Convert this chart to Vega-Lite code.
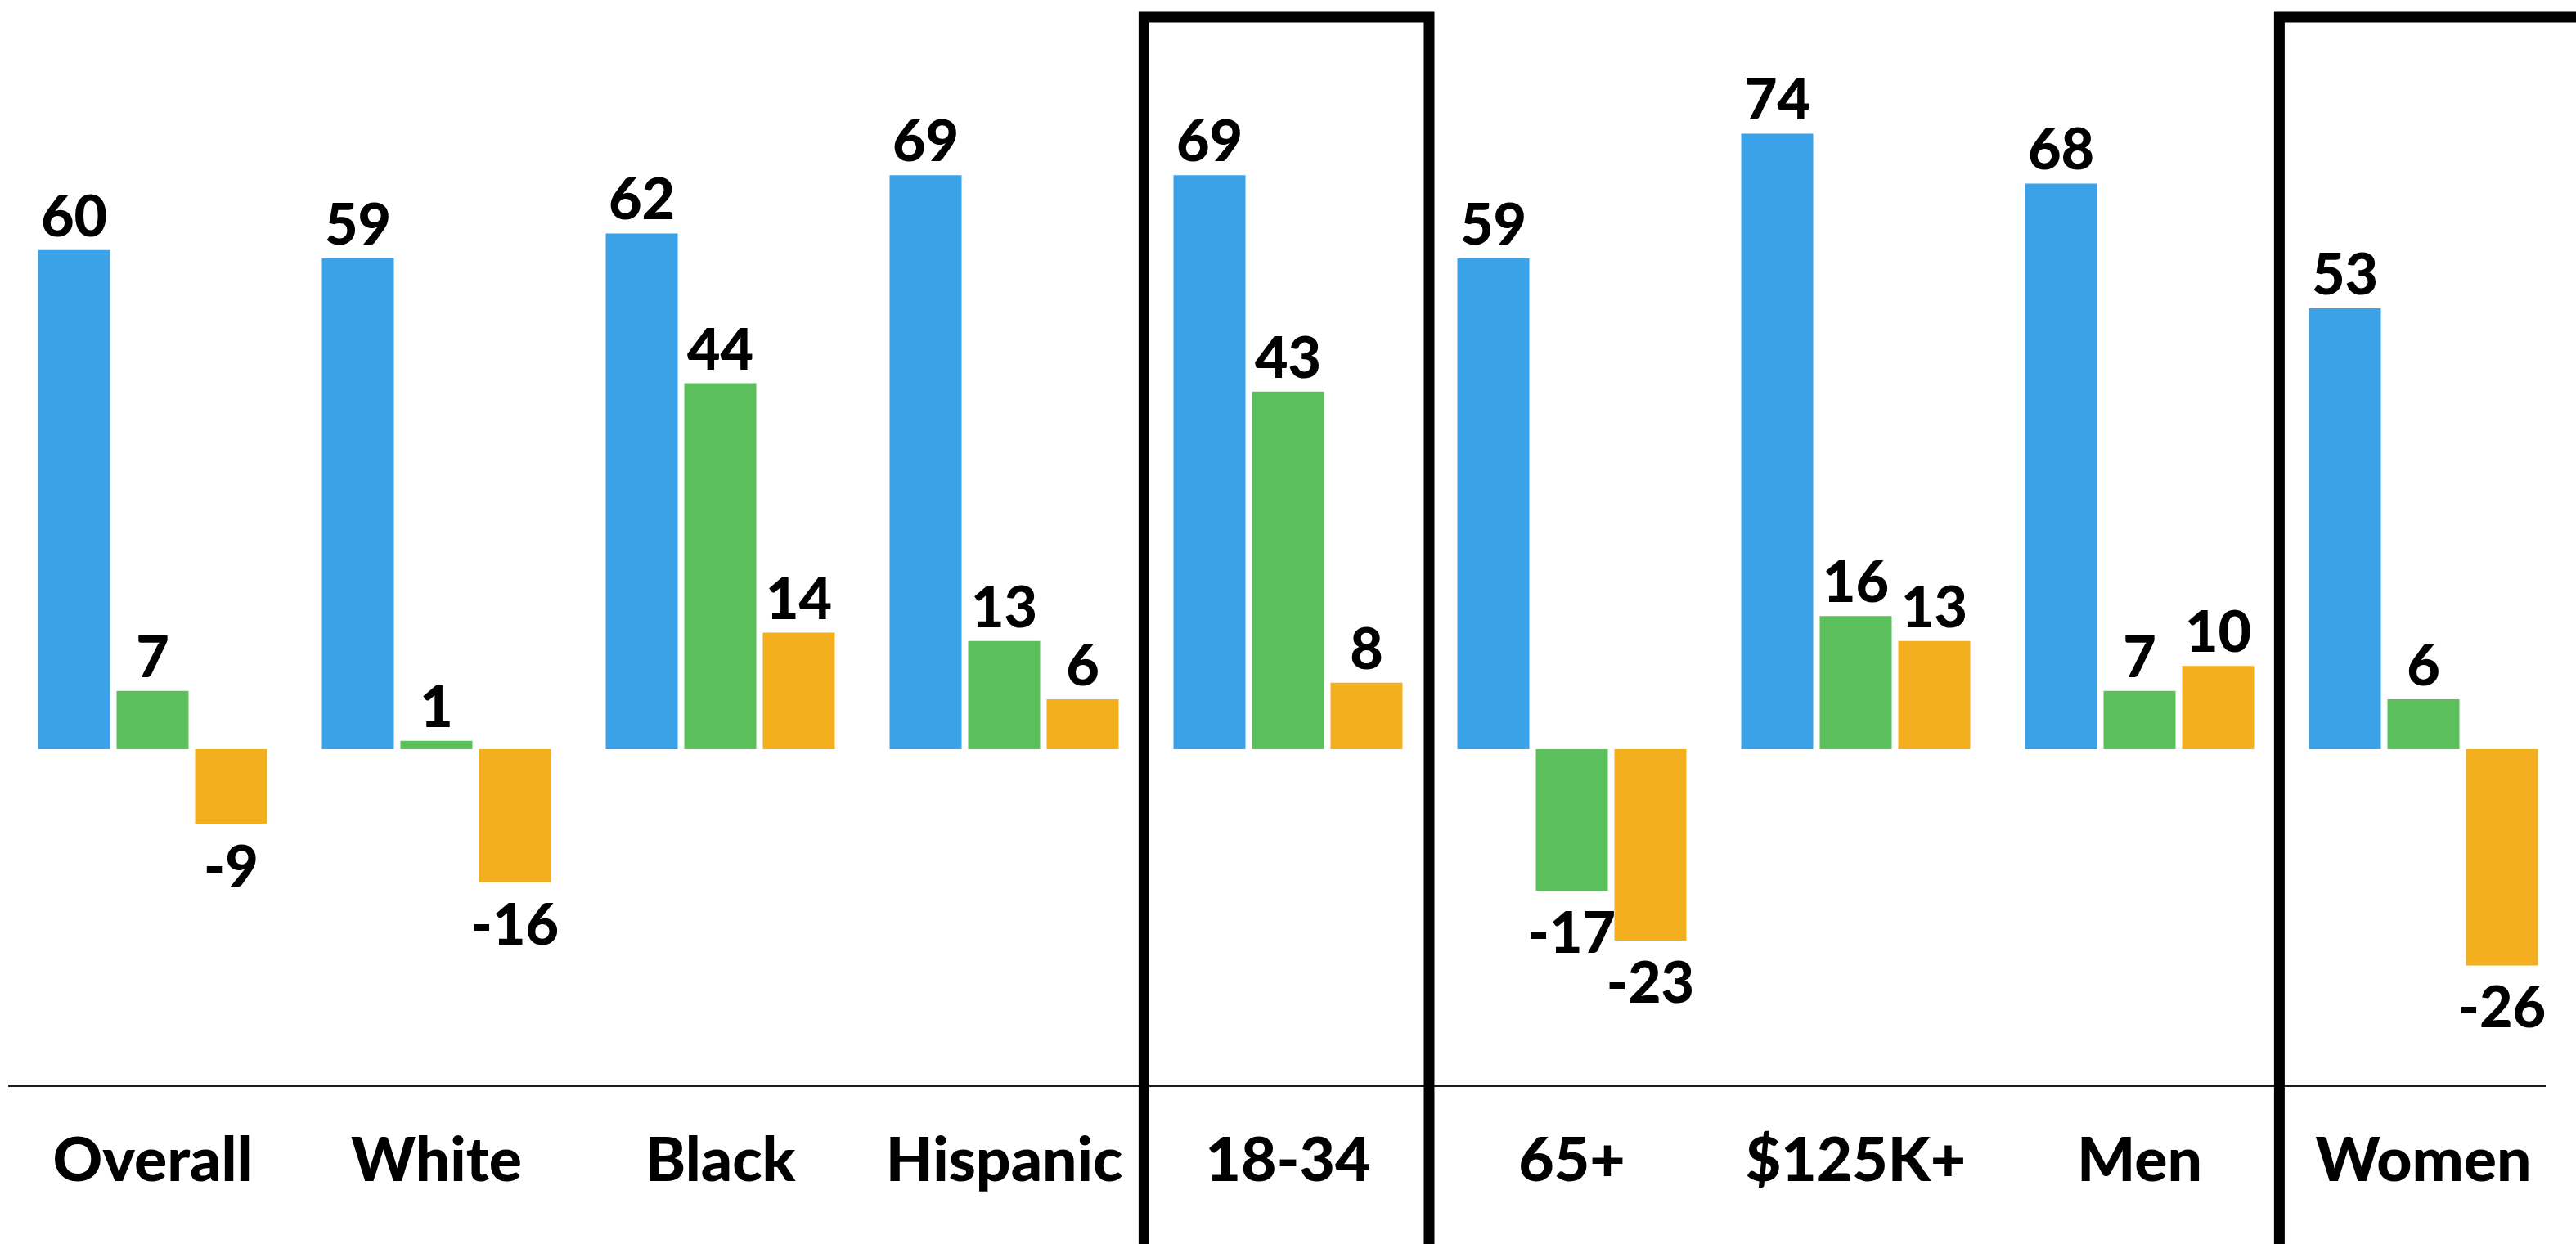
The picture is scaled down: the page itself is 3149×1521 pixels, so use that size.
{
  "$schema": "https://vega.github.io/schema/vega-lite/v6.json",
  "width": 3149,
  "height": 1521,
  "padding": 0,
  "autosize": {"type": "none"},
  "background": "#ffffff",
  "config": {"view": {"stroke": null}, "font": "Lato"},
  "datasets": {
    "bars": [
      {"group": "Overall", "series": "1", "value": 60},
      {"group": "Overall", "series": "2", "value": 7},
      {"group": "Overall", "series": "3", "value": -9},
      {"group": "White", "series": "1", "value": 59},
      {"group": "White", "series": "2", "value": 1},
      {"group": "White", "series": "3", "value": -16},
      {"group": "Black", "series": "1", "value": 62},
      {"group": "Black", "series": "2", "value": 44},
      {"group": "Black", "series": "3", "value": 14},
      {"group": "Hispanic", "series": "1", "value": 69},
      {"group": "Hispanic", "series": "2", "value": 13},
      {"group": "Hispanic", "series": "3", "value": 6},
      {"group": "18-34", "series": "1", "value": 69},
      {"group": "18-34", "series": "2", "value": 43},
      {"group": "18-34", "series": "3", "value": 8},
      {"group": "65+", "series": "1", "value": 59},
      {"group": "65+", "series": "2", "value": -17},
      {"group": "65+", "series": "3", "value": -23},
      {"group": "$125K+", "series": "1", "value": 74},
      {"group": "$125K+", "series": "2", "value": 16},
      {"group": "$125K+", "series": "3", "value": 13},
      {"group": "Men", "series": "1", "value": 68},
      {"group": "Men", "series": "2", "value": 7},
      {"group": "Men", "series": "3", "value": 10},
      {"group": "Women", "series": "1", "value": 53},
      {"group": "Women", "series": "2", "value": 6},
      {"group": "Women", "series": "3", "value": -26}
    ],
    "boxes": [
      {"group": "18-34"},
      {"group": "Women"}
    ],
    "baseline": [
      {"from": "Overall", "to": "Women", "level": -40.5}
    ]
  },
  "layer": [
    {
      "data": {"name": "bars"},
      "mark": {"type": "bar"},
      "encoding": {
        "x": {
          "field": "group",
          "type": "nominal",
          "scale": {
            "domain": ["Overall", "White", "Black", "Hispanic", "18-34", "65+", "$125K+", "Men", "Women"],
            "paddingInner": 0.1931,
            "paddingOuter": 0.134
          },
          "axis": {
            "orient": "bottom",
            "offset": -193,
            "domain": false,
            "ticks": false,
            "tickSize": 0,
            "grid": false,
            "labelPadding": 115,
            "labelBaseline": "alphabetic",
            "labelAngle": 0,
            "labelLimit": 0,
            "labelFont": "Lato",
            "labelFontSize": 75,
            "labelFontWeight": 900,
            "labelColor": "#000000",
            "title": null
          }
        },
        "xOffset": {
          "field": "series",
          "type": "nominal",
          "scale": {"domain": ["1", "2", "3"], "paddingInner": 0.0833, "paddingOuter": 0}
        },
        "y": {
          "field": "value",
          "type": "quantitative",
          "scale": {"domain": [-59.49, 90.07], "nice": false, "zero": true},
          "axis": null
        },
        "color": {
          "field": "series",
          "type": "nominal",
          "scale": {"domain": ["1", "2", "3"], "range": ["#3ba2e7", "#5bc05b", "#f4af1e"]},
          "legend": null
        }
      }
    },
    {
      "data": {"name": "bars"},
      "transform": [{"filter": "datum.value >= 0"}],
      "mark": {"type": "text", "baseline": "alphabetic", "align": "center", "dy": -17, "fontSize": 70, "fontWeight": 900, "font": "Lato", "color": "#000000"},
      "encoding": {
        "x": {"field": "group", "type": "nominal"},
        "xOffset": {"field": "series", "type": "nominal"},
        "y": {"field": "value", "type": "quantitative"},
        "text": {"field": "value", "type": "nominal"}
      }
    },
    {
      "data": {"name": "bars"},
      "transform": [{"filter": "datum.value < 0"}],
      "mark": {"type": "text", "baseline": "alphabetic", "align": "center", "dy": 76, "fontSize": 70, "fontWeight": 900, "font": "Lato", "color": "#000000"},
      "encoding": {
        "x": {"field": "group", "type": "nominal"},
        "xOffset": {"field": "series", "type": "nominal"},
        "y": {"field": "value", "type": "quantitative"},
        "text": {"field": "value", "type": "nominal"}
      }
    },
    {
      "data": {"name": "baseline"},
      "mark": {"type": "rule", "color": "#1a1a1a", "strokeWidth": 2.5},
      "encoding": {
        "x": {"field": "from", "type": "nominal", "bandPosition": -0.13},
        "x2": {"field": "to", "bandPosition": 1.034},
        "y": {"field": "level", "type": "quantitative"}
      }
    },
    {
      "data": {"name": "boxes"},
      "transform": [{"filter": "datum.group === '18-34'"}],
      "mark": {"type": "rect", "fillOpacity": 0, "stroke": "#000000", "strokeWidth": 13, "clip": false},
      "encoding": {
        "x": {"field": "group", "type": "nominal", "bandPosition": -0.129},
        "x2": {"field": "group", "bandPosition": 1.116},
        "y": {"datum": 88.0, "type": "quantitative"},
        "y2": {"datum": -70}
      }
    },
    {
      "data": {"name": "boxes"},
      "transform": [{"filter": "datum.group === 'Women'"}],
      "mark": {"type": "rect", "fillOpacity": 0, "stroke": "#000000", "strokeWidth": 13, "clip": false},
      "encoding": {
        "x": {"field": "group", "type": "nominal", "bandPosition": -0.129},
        "x2": {"field": "group", "bandPosition": 1.3},
        "y": {"datum": 88.0, "type": "quantitative"},
        "y2": {"datum": -70}
      }
    }
  ]
}
